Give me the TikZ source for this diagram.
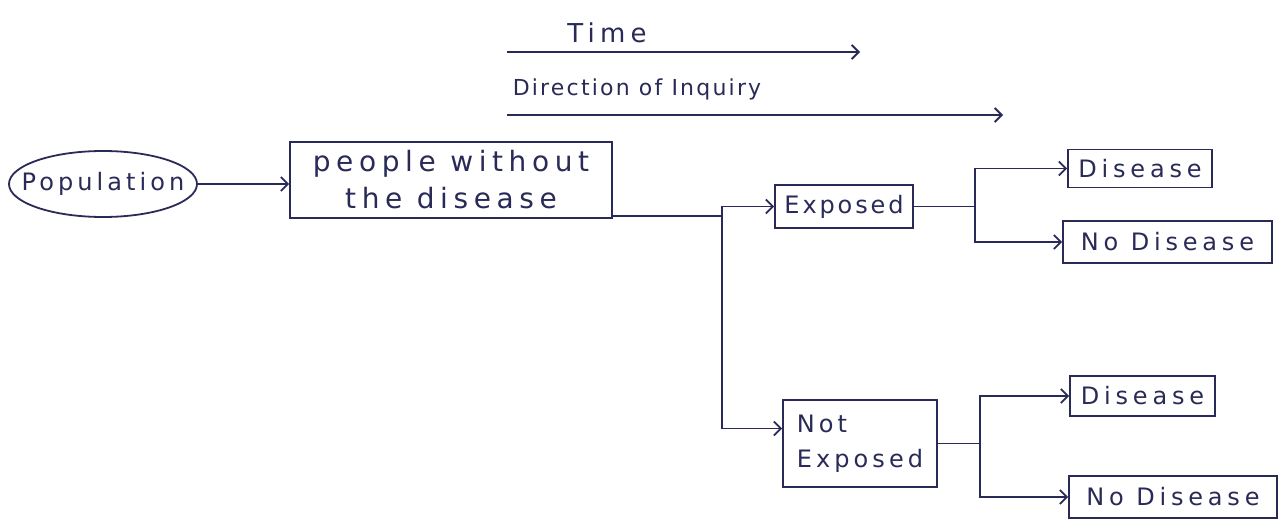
\documentclass[tikz,border=0pt]{standalone}
\usepackage{fontspec}
\newfontfamily\handA[LetterSpace=20]{DejaVu Sans}
\newfontfamily\handB[LetterSpace=12]{DejaVu Sans}
\newfontfamily\handC[LetterSpace=10]{DejaVu Sans}
\newfontfamily\handD[LetterSpace=17]{DejaVu Sans}
\usetikzlibrary{arrows.meta,shapes.geometric}
\definecolor{ink}{RGB}{42,42,88}
\begin{document}
\begin{tikzpicture}[x=1pt,y=-1pt,
  txt/.style={text=ink,inner sep=0pt,font=\handA\fontsize{24}{35}\selectfont},
  box/.style={draw=ink,line width=1.8pt,txt},
  conn/.style={draw=ink,line width=1.8pt},
  arr/.style={conn,-{Straight Barb[length=7pt,width=14pt,line width=1.8pt]}}]
\useasboundingbox[fill=white] (0,0) rectangle (1284,522);
% header arrows
\node[txt,font=\handA\fontsize{26}{30}\selectfont] (time) at (607,33) {Time};
\coordinate (t0) at (507,52);
\coordinate (t1) at (860,52);
\draw[arr] (t0) -- (t1);
\node[txt,font=\handC\fontsize{22}{26}\selectfont] (dir) at (637,89) {Direction of Inquiry};
\coordinate (d0) at (507,115);
\coordinate (d1) at (1003,115);
\draw[arr] (d0) -- (d1);
% nodes
\node[draw=ink,line width=1.8pt,ellipse,minimum width=188pt,minimum height=66pt,inner sep=0pt] (pop) at (103,184) {};
\node[txt,font=\handD\fontsize{24}{28}\selectfont] (poptext) at (pop.center) {Population};
\node[box,font=\handA\fontsize{28}{37}\selectfont,minimum width=322pt,minimum height=76pt,align=center] (people) at (451,180) {people without\\the disease};
\node[box,font=\handB\fontsize{24}{30}\selectfont,minimum width=138pt,minimum height=43pt] (exposed) at (844,206.5) {Exposed};
\node[box,font=\handD\fontsize{24}{35}\selectfont,minimum width=154pt,minimum height=87pt,align=left] (notexp) at (860,443.5) {Not\\Exposed};
\node[box,minimum width=144pt,minimum height=38pt] (dis1) at (1140,168.5) {Disease};
\node[box,minimum width=209pt,minimum height=42pt] (nodis1) at (1167.5,242) {No Disease};
\node[box,minimum width=145pt,minimum height=40pt] (dis2) at (1142.5,396) {Disease};
\node[box,minimum width=208pt,minimum height=42pt] (nodis2) at (1173,497) {No Disease};
% connectors
\draw[arr] (pop.east) -- (pop.east -| people.west);
\coordinate (j1) at (722,216);
\draw[conn] (j1 -| people.east) -- (j1);
\draw[arr] (j1) |- (exposed.west);
\draw[arr] (j1) |- ([yshift=15pt]notexp.west);
\coordinate (j2) at (975,206.5);
\draw[conn] (exposed.east) -- (j2);
\draw[arr] (j2) |- (dis1.west);
\draw[arr] (j2) |- (nodis1.west);
\coordinate (j3) at (980,443.5);
\draw[conn] (notexp.east) -- (j3);
\draw[arr] (j3) |- (dis2.west);
\draw[arr] (j3) |- (nodis2.west);
\end{tikzpicture}
\end{document}
